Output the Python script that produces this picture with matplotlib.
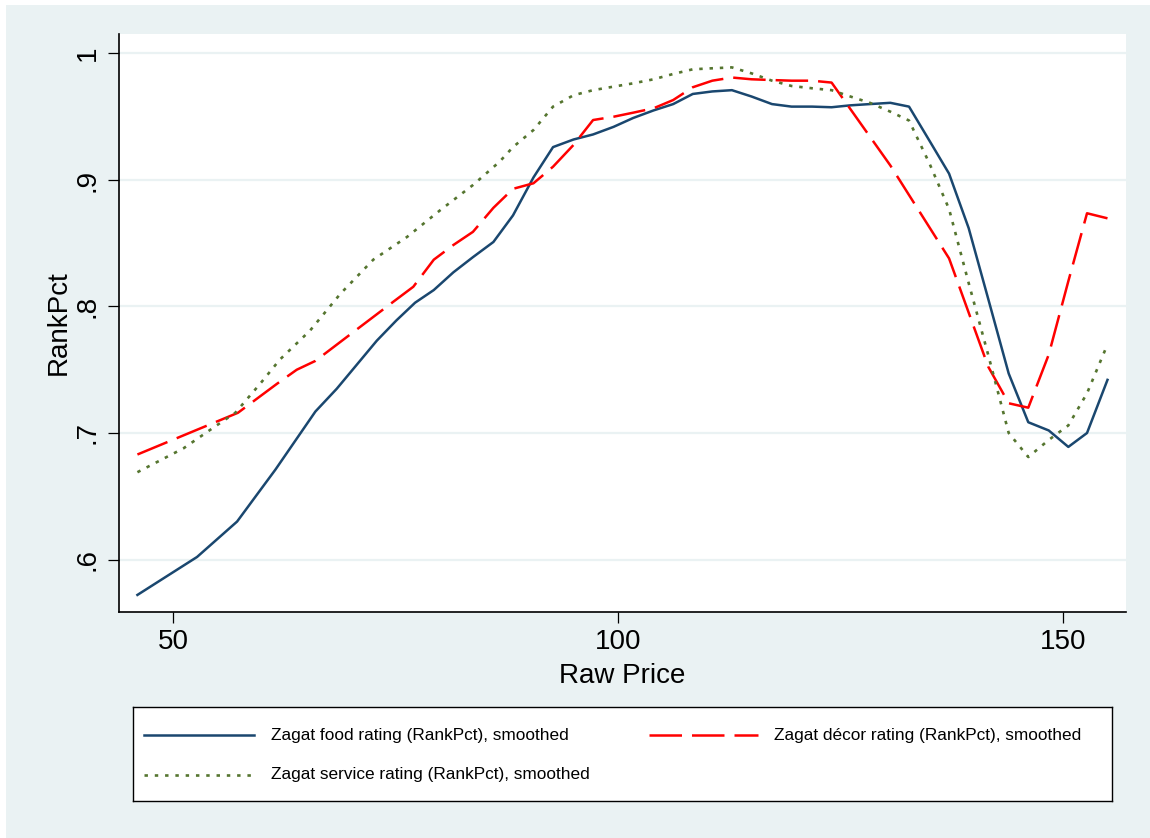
import matplotlib
matplotlib.use("Agg")
import matplotlib.pyplot as plt
from matplotlib.lines import Line2D
from matplotlib.patches import Rectangle

plt.rcParams["font.family"] = ["Liberation Sans", "DejaVu Sans"]

# smoothed RankPct vs raw price
food_x = [46.0, 52.7, 57.2, 59.4, 61.5, 66.0, 68.4, 72.9, 75.1, 77.2, 79.3, 81.5, 83.7, 86.0,
          88.2, 90.5, 92.7, 95.0, 97.2, 99.5, 101.7, 104.0, 106.2, 108.4, 110.6, 112.8, 115.0,
          117.3, 119.5, 121.8, 124.0, 126.1, 128.3, 130.6, 132.7, 135.0, 137.2, 139.4, 141.6,
          143.9, 146.1, 148.4, 150.6, 152.7, 155.0]
food_y = [0.572, 0.602, 0.630, 0.651, 0.671, 0.717, 0.735, 0.773, 0.789, 0.803, 0.813, 0.827,
          0.839, 0.851, 0.872, 0.902, 0.926, 0.932, 0.936, 0.942, 0.949, 0.955, 0.960, 0.968,
          0.970, 0.971, 0.966, 0.960, 0.958, 0.958, 0.9575, 0.959, 0.960, 0.961, 0.958, 0.931,
          0.905, 0.862, 0.806, 0.747, 0.7085, 0.702, 0.689, 0.700, 0.742]

decor_x = [46.0, 57.3, 61.7, 63.9, 66.0, 70.3, 74.8, 77.0, 79.3, 81.5, 83.7, 86.0, 88.2, 90.5,
           92.7, 95.0, 97.2, 99.5, 101.7, 104.0, 106.2, 108.4, 110.6, 112.8, 115.0, 117.3,
           119.5, 121.8, 124.0, 130.6, 137.2, 141.6, 143.9, 146.1, 148.4, 150.6, 152.7, 155.0]
decor_y = [0.683, 0.716, 0.739, 0.750, 0.757, 0.780, 0.804, 0.8156, 0.837, 0.8486, 0.859, 0.878,
           0.893, 0.8974, 0.9105, 0.9277, 0.9474, 0.950, 0.9532, 0.9567, 0.9632, 0.9733, 0.9785,
           0.981, 0.9796, 0.979, 0.9785, 0.9785, 0.977, 0.9115, 0.838, 0.7524, 0.7235, 0.720,
           0.762, 0.820, 0.8737, 0.8697]

service_x = [46.0, 51.2, 54.9, 57.0, 59.8, 62.0, 65.4, 68.8, 72.5, 76.3, 80.0, 83.7, 86.7, 88.2,
             90.5, 92.7, 95.0, 97.2, 99.5, 101.7, 104.0, 106.2, 108.4, 110.6, 112.8, 115.0,
             117.3, 119.5, 121.8, 124.0, 126.1, 128.3, 130.6, 132.7, 135.0, 137.2, 139.4,
             141.6, 143.9, 146.1, 148.4, 150.6, 152.7, 155.0]
service_y = [0.669, 0.688, 0.706, 0.716, 0.739, 0.758, 0.781, 0.810, 0.837, 0.855, 0.876, 0.896,
             0.9145, 0.926, 0.9395, 0.958, 0.967, 0.971, 0.9738, 0.9764, 0.9796, 0.9838, 0.9875,
             0.9883, 0.989, 0.9843, 0.9785, 0.9743, 0.9725, 0.971, 0.966, 0.961, 0.954, 0.947,
             0.913, 0.877, 0.8186, 0.7617, 0.700, 0.681, 0.6945, 0.706, 0.7314, 0.770]

labels = ["Zagat food rating (RankPct), smoothed",
          "Zagat d\u00e9cor rating (RankPct), smoothed",
          "Zagat service rating (RankPct), smoothed"]
xticks = [50, 100, 150]
yticks = [0.6, 0.7, 0.8, 0.9, 1.0]
ytick_labels = [".6", ".7", ".8", ".9", "1"]

bg = "#eaf2f3"
c_food = "#1a476f"
c_decor = "#ff0000"
c_service = "#55752f"
styles = [
    dict(color=c_food, lw=1.8, ls="-"),
    dict(color=c_decor, lw=1.8, dashes=(13, 4)),
    dict(color=c_service, lw=1.9, dashes=(1.3, 2.6)),
]

fig = plt.figure(figsize=(11.5, 8.38), dpi=100, facecolor="white")
# stata-ish outer background, thin white strip top/left
fig.patches.append(Rectangle((6 / 1150, 0), 1, 1 - 5 / 838, transform=fig.transFigure,
                             facecolor=bg, edgecolor="none", zorder=-10))

ax = fig.add_axes([119 / 1150, 1 - 612 / 838, 1007 / 1150, 578 / 838])
ax.set_facecolor("white")

ax.plot(food_x, food_y, **styles[0])
ax.plot(decor_x, decor_y, **styles[1])
ax.plot(service_x, service_y, **styles[2])

ax.set_xlim(43.93, 157.08)
ax.set_ylim(0.5585, 1.0154)
ax.set_xticks(xticks)
ax.set_yticks(yticks)
ax.set_yticklabels(ytick_labels, rotation=90, va="center")
ax.grid(axis="y", color=bg, lw=1.6)
ax.set_axisbelow(True)

for s in ["top", "right"]:
    ax.spines[s].set_visible(False)
for s in ["left", "bottom"]:
    ax.spines[s].set_color("black")
    ax.spines[s].set_linewidth(1.2)

ax.tick_params(axis="both", labelsize=20, length=8, width=0.9, colors="black")
ax.tick_params(axis="y", pad=5)
ax.tick_params(axis="x", pad=4)
ax.set_xlabel("Raw Price", fontsize=20, labelpad=6)
ax.set_ylabel("RankPct", fontsize=20, labelpad=2)

# legend box drawn by hand to match the stata layout
lax = fig.add_axes([133 / 1150, 1 - 801 / 838, 979 / 1150, 94 / 838])
lax.set_xlim(0, 1)
lax.set_ylim(0, 1)
lax.set_xticks([])
lax.set_yticks([])
lax.set_facecolor("white")
for s in lax.spines.values():
    s.set_color("black")
    s.set_linewidth(1.0)

slots = [(0.0112, 0.1236, 0.141, 0.702),
         (0.527, 0.638, 0.6548, 0.702),
         (0.0112, 0.1236, 0.141, 0.277)]
for (x0, x1, xt, yy), lab, st in zip(slots, labels, styles):
    lax.add_line(Line2D([x0, x1], [yy, yy], **st))
    lax.text(xt, yy, lab, fontsize=12.4, va="center", ha="left")

fig.savefig("out.png", dpi=100, facecolor=fig.get_facecolor())
